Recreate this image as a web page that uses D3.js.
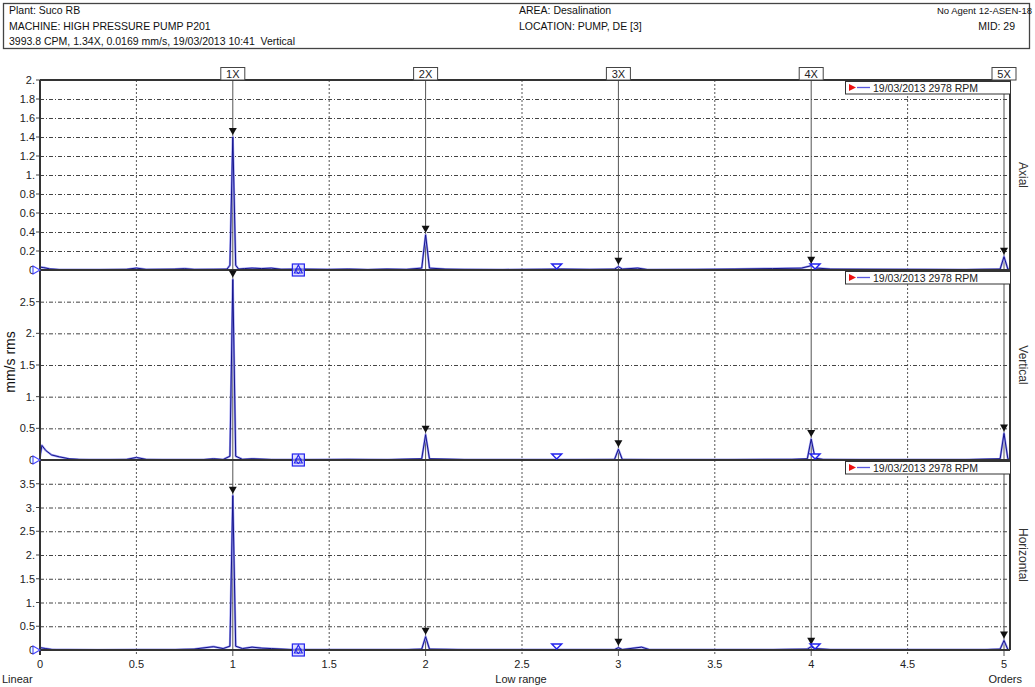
<!DOCTYPE html>
<html>
<head>
<meta charset="utf-8">
<script src="https://cdn.jsdelivr.net/npm/d3@7"></script>
<style>
  body { margin: 0; background: #fff; }
  svg { display: block; font-family: "Liberation Sans", Arial, sans-serif; }
  text { white-space: pre; }
</style>
</head>
<body>
<svg id="chart" width="1035" height="687"></svg>
<script>
// ---- header text ----
const headerLeft = ["Plant: Suco RB", "MACHINE: HIGH PRESSURE PUMP P201", "3993.8 CPM, 1.34X, 0.0169 mm/s, 19/03/2013 10:41  Vertical"];
const headerMid = ["AREA: Desalination", "LOCATION: PUMP, DE [3]"];
const headerRight = ["No Agent", "12-ASEN-18"];
const headerMid2 = "MID: 29";

// ---- axes ----
const orderTicks = [0, 0.5, 1, 1.5, 2, 2.5, 3, 3.5, 4, 4.5, 5];
const harmonicOrders = [1, 2, 3, 4, 5];
const harmonicLabels = ["1X", "2X", "3X", "4X", "5X"];
const cursorOrder = 1.34;
const cursorHarmonics = [2, 3];
const legendText = "19/03/2013 2978 RPM";

const panelNames = ["Axial", "Vertical", "Horizontal"];
const panelMax = [2, 3, 4];
const panelStep = [0.2, 0.5, 0.5];

// ---- spectra: [order, mm/s rms] ----
const axialSpectrum = [
  [0, 0.03], [0.02, 0.025], [0.05, 0.012], [0.1, 0.005], [0.2, 0.004], [0.3, 0.005], [0.45, 0.008],
  [0.5, 0.02], [0.55, 0.006], [0.7, 0.01], [0.75, 0.014], [0.8, 0.006], [0.9, 0.008], [0.97, 0.01],
  [0.985, 0.05], [1.0, 1.40], [1.015, 0.05], [1.03, 0.01], [1.06, 0.015], [1.1, 0.02], [1.15, 0.015],
  [1.2, 0.02], [1.25, 0.008], [1.35, 0.01], [1.5, 0.006], [1.6, 0.01], [1.7, 0.005], [1.8, 0.01],
  [1.9, 0.006], [1.98, 0.02], [2.0, 0.37], [2.02, 0.02], [2.1, 0.01], [2.2, 0.006], [2.4, 0.005],
  [2.6, 0.008], [2.7, 0.01], [2.85, 0.006], [2.98, 0.01], [3.0, 0.035], [3.02, 0.01], [3.1, 0.02],
  [3.15, 0.005], [3.4, 0.006], [3.6, 0.01], [3.8, 0.015], [3.95, 0.02], [4.0, 0.045], [4.03, 0.02],
  [4.1, 0.01], [4.3, 0.008], [4.6, 0.006], [4.8, 0.005], [4.98, 0.01], [5.0, 0.14], [5.02, 0.01], [5.03, 0.005]
];
const verticalSpectrum = [
  [0, 0.05], [0.01, 0.23], [0.03, 0.15], [0.06, 0.08], [0.1, 0.05], [0.15, 0.02], [0.2, 0.01],
  [0.3, 0.006], [0.45, 0.01], [0.5, 0.04], [0.55, 0.01], [0.7, 0.006], [0.85, 0.008], [0.9, 0.02],
  [0.95, 0.008], [0.985, 0.06], [1.0, 2.85], [1.015, 0.06], [1.05, 0.01], [1.1, 0.02], [1.2, 0.008],
  [1.4, 0.006], [1.6, 0.01], [1.8, 0.006], [1.98, 0.02], [2.0, 0.40], [2.02, 0.02], [2.2, 0.008],
  [2.5, 0.005], [2.8, 0.008], [2.98, 0.01], [3.0, 0.17], [3.02, 0.01], [3.3, 0.006], [3.6, 0.008],
  [3.9, 0.01], [3.98, 0.02], [4.0, 0.33], [4.02, 0.03], [4.06, 0.01], [4.4, 0.006], [4.8, 0.006],
  [4.98, 0.02], [5.0, 0.42], [5.02, 0.02], [5.03, 0.005]
];
const horizontalSpectrum = [
  [0, 0.05], [0.03, 0.03], [0.06, 0.012], [0.15, 0.006], [0.3, 0.005], [0.5, 0.008], [0.7, 0.01],
  [0.8, 0.02], [0.9, 0.07], [0.95, 0.03], [0.985, 0.08], [1.0, 3.25], [1.015, 0.08], [1.05, 0.03],
  [1.1, 0.06], [1.15, 0.04], [1.2, 0.03], [1.3, 0.01], [1.5, 0.008], [1.7, 0.01], [1.9, 0.008],
  [1.98, 0.02], [2.0, 0.28], [2.02, 0.02], [2.2, 0.008], [2.5, 0.006], [2.8, 0.01], [2.98, 0.01],
  [3.0, 0.05], [3.02, 0.01], [3.12, 0.06], [3.16, 0.01], [3.5, 0.008], [3.8, 0.01], [3.98, 0.02],
  [4.0, 0.07], [4.02, 0.03], [4.1, 0.01], [4.5, 0.006], [4.9, 0.008], [4.98, 0.02], [5.0, 0.2],
  [5.02, 0.01], [5.03, 0.005]
];
const spectra = [axialSpectrum, verticalSpectrum, horizontalSpectrum];

// ---- layout ----
const plot = { left: 40, right: 1010, top: 80, bottom: 650 };
const panelEdges = [80, 270, 460, 650];
const blue = "#2222ee";
const traceColor = "#14148c";

const svg = d3.select("#chart");
const x = d3.scaleLinear().domain([0, 5]).range([40, 1004]);

const fmt = v => v === 0 ? "0" : (Number.isInteger(v) ? v + "." : String(v));

// header box
svg.append("rect").attr("x", 3.5).attr("y", 3.5).attr("width", 1026).attr("height", 45)
  .attr("fill", "#fff").attr("stroke", "#444").attr("stroke-width", 1.3);
headerLeft.forEach((t, i) => svg.append("text").attr("x", 9).attr("y", 14 + i * 15.5)
  .attr("font-size", 10.5).attr("fill", "#111").text(t));
headerMid.forEach((t, i) => svg.append("text").attr("x", 519).attr("y", 14 + i * 15.5)
  .attr("font-size", 10.5).attr("fill", "#111").text(t));
svg.append("text").attr("x", 976).attr("y", 14).attr("text-anchor", "end")
  .attr("font-size", 9.5).attr("fill", "#111").text(headerRight[0]);
svg.append("text").attr("x", 1032).attr("y", 14).attr("text-anchor", "end")
  .attr("font-size", 9.5).attr("fill", "#111").text(headerRight[1]);
svg.append("text").attr("x", 1015).attr("y", 29.5).attr("text-anchor", "end")
  .attr("font-size", 10.5).attr("fill", "#111").text(headerMid2);

const gridLayer = svg.append("g");
const orderLayer = svg.append("g");
const traceLayer = svg.append("g");
const frameLayer = svg.append("g");
const markLayer = svg.append("g");

// vertical grid
orderTicks.filter(v => v > 0 && !Number.isInteger(v)).forEach(v => {
  gridLayer.append("line").attr("x1", x(v)).attr("x2", x(v)).attr("y1", plot.top).attr("y2", plot.bottom + 5)
    .attr("stroke", "#555").attr("stroke-width", 1).attr("stroke-dasharray", "2,2");
});

panelNames.forEach((name, p) => {
  const top = panelEdges[p], bottom = panelEdges[p + 1];
  const y = d3.scaleLinear().domain([0, panelMax[p]]).range([bottom, top]);
  const ticks = d3.range(0, panelMax[p] + 1e-9, panelStep[p]).map(v => +v.toFixed(1));

  // horizontal grid
  ticks.filter(v => v > 0 && v < panelMax[p]).forEach(v => {
    gridLayer.append("line").attr("x1", plot.left).attr("x2", plot.right).attr("y1", y(v) + 0.5).attr("y2", y(v) + 0.5)
      .attr("stroke", "#444").attr("stroke-width", 1).attr("stroke-dasharray", "4,2,1,2");
  });
  // tick labels (top value is hidden under the panel above)
  ticks.filter(v => p === 0 || v < panelMax[p]).forEach(v => {
    frameLayer.append("text").attr("x", 35).attr("y", y(v) + 4).attr("text-anchor", "end")
      .attr("font-size", 11).attr("fill", "#222").text(fmt(v));
    frameLayer.append("line").attr("x1", 36).attr("x2", 40).attr("y1", y(v)).attr("y2", y(v))
      .attr("stroke", "#444").attr("stroke-width", 1);
  });

  // trace
  const data = spectra[p];
  const line = d3.line().x(d => x(d[0])).y(d => y(d[1]));
  traceLayer.append("path").datum(data).attr("d", line).attr("fill", "none")
    .attr("stroke", "#9c9cf2").attr("stroke-width", 2.2).attr("stroke-linejoin", "round");
  traceLayer.append("path").datum(data).attr("d", line).attr("fill", "none")
    .attr("stroke", traceColor).attr("stroke-width", 1).attr("stroke-linejoin", "round");

  // zero line
  frameLayer.append("line").attr("x1", plot.left).attr("x2", plot.right).attr("y1", bottom).attr("y2", bottom)
    .attr("stroke", "#333").attr("stroke-width", 2);

  // order markers above peaks
  harmonicOrders.forEach(k => {
    const pk = d3.max(data.filter(d => Math.abs(d[0] - k) < 0.03), d => d[1]);
    const tip = y(pk) - 2;
    const px = x(k);
    markLayer.append("path").attr("d", `M${px - 4},${tip - 7}L${px + 4},${tip - 7}L${px},${tip}Z`).attr("fill", "#111");
  });

  // cursor box at 1.34X
  const cx = x(cursorOrder);
  markLayer.append("rect").attr("x", cx - 6).attr("y", bottom - 6).attr("width", 12).attr("height", 12)
    .attr("fill", "#c8c8ff").attr("fill-opacity", 0.6).attr("stroke", blue).attr("stroke-width", 1.2);
  markLayer.append("path").attr("d", `M${cx - 4},${bottom + 3}L${cx + 4},${bottom + 3}L${cx},${bottom - 5}Z`)
    .attr("fill", "none").attr("stroke", blue).attr("stroke-width", 1.1);
  markLayer.append("path").attr("d", `M${cx - 3},${bottom - 1}L${cx + 3},${bottom - 1}L${cx},${bottom + 4}Z`)
    .attr("fill", "none").attr("stroke", blue).attr("stroke-width", 1);
  // harmonic cursors
  cursorHarmonics.forEach(h => {
    const hx = x(cursorOrder * h);
    markLayer.append("path").attr("d", `M${hx - 5},${bottom - 6}L${hx + 5},${bottom - 6}L${hx},${bottom - 1}Z`)
      .attr("fill", "#fff").attr("stroke", blue).attr("stroke-width", 1.4);
  });
  // left-edge reference marker
  markLayer.append("path").attr("d", `M33,${bottom - 4}L33,${bottom + 4}L40,${bottom}Z`)
    .attr("fill", "#fff").attr("stroke", "#4444ff").attr("stroke-width", 1.1);

  // legend
  const lg = markLayer.append("g").attr("transform", `translate(845,${top + 1})`);
  lg.append("rect").attr("x", 0.5).attr("y", 0.5).attr("width", 165).attr("height", 12.5)
    .attr("fill", "#fff").attr("stroke", "#333").attr("stroke-width", 1);
  lg.append("path").attr("d", "M4,3L4,10L11,6.5Z").attr("fill", "#ee1111");
  lg.append("line").attr("x1", 12).attr("x2", 25).attr("y1", 6.5).attr("y2", 6.5).attr("stroke", "#5a5ae0").attr("stroke-width", 1.3);
  lg.append("text").attr("x", 28).attr("y", 10.5).attr("font-size", 10.5).attr("fill", "#222").text(legendText);

  // direction label
  frameLayer.append("text").attr("transform", `translate(1019,${(top + bottom) / 2}) rotate(90)`)
    .attr("text-anchor", "middle").attr("font-size", 12).attr("fill", "#333").text(name);
});

// order lines and label boxes
harmonicOrders.forEach((k, i) => {
  const px = x(k);
  orderLayer.append("line").attr("x1", px).attr("x2", px).attr("y1", 80).attr("y2", 656)
    .attr("stroke", "#555").attr("stroke-width", 1);
  svg.append("rect").attr("x", px - 12).attr("y", 67.5).attr("width", 24).attr("height", 12.5)
    .attr("fill", "#fff").attr("stroke", "#444").attr("stroke-width", 1);
  svg.append("text").attr("x", px).attr("y", 78).attr("text-anchor", "middle")
    .attr("font-size", 11).attr("fill", "#222").text(harmonicLabels[i]);
});

// outer frame
frameLayer.append("line").attr("x1", plot.left).attr("x2", plot.right).attr("y1", plot.top).attr("y2", plot.top)
  .attr("stroke", "#333").attr("stroke-width", 2);
frameLayer.append("line").attr("x1", plot.left).attr("x2", plot.left).attr("y1", plot.top).attr("y2", plot.bottom + 5)
  .attr("stroke", "#333").attr("stroke-width", 2);
frameLayer.append("line").attr("x1", plot.right).attr("x2", plot.right).attr("y1", plot.top).attr("y2", plot.bottom)
  .attr("stroke", "#333").attr("stroke-width", 2);

// x axis labels
orderTicks.forEach(v => {
  svg.append("text").attr("x", x(v)).attr("y", 668).attr("text-anchor", "middle")
    .attr("font-size", 11).attr("fill", "#222").text(String(v));
});
svg.append("text").attr("x", 2).attr("y", 683).attr("font-size", 11).attr("fill", "#222").text("Linear");
svg.append("text").attr("x", 521).attr("y", 683).attr("text-anchor", "middle").attr("font-size", 11).attr("fill", "#222").text("Low range");
svg.append("text").attr("x", 1022).attr("y", 683).attr("text-anchor", "end").attr("font-size", 11).attr("fill", "#222").text("Orders");

// y axis title
svg.append("text").attr("transform", "translate(15,362) rotate(-90)").attr("text-anchor", "middle")
  .attr("font-size", 14).attr("fill", "#111").text("mm/s rms");
</script>
</body>
</html>
